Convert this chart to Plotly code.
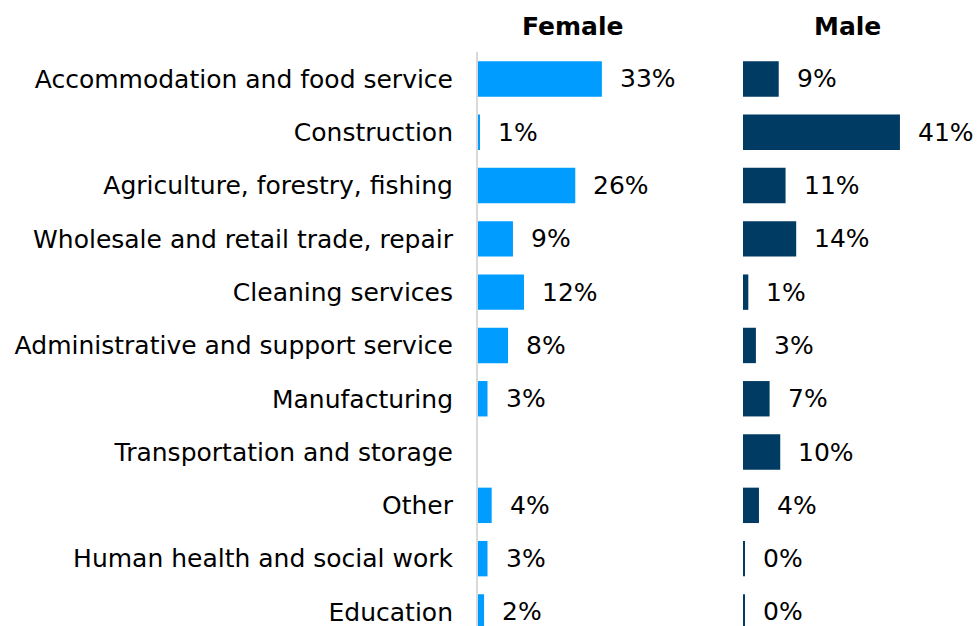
import plotly.graph_objects as go

categories = [
    "Accommodation and food service",
    "Construction",
    "Agriculture, forestry, fishing",
    "Wholesale and retail trade, repair",
    "Cleaning services",
    "Administrative and support service",
    "Manufacturing",
    "Transportation and storage",
    "Other",
    "Human health and social work",
    "Education",
]
female_values = [32.6, 0.5, 25.6, 9.2, 12.1, 7.9, 2.5, None, 3.6, 2.5, 1.6]
female_labels = ["33%", "1%", "26%", "9%", "12%", "8%", "3%", "", "4%", "3%", "2%"]
male_values = [9.4, 41.3, 11.2, 14.0, 1.4, 3.4, 7.0, 9.8, 4.2, 0.4, 0.4]
male_labels = ["9%", "41%", "11%", "14%", "1%", "3%", "7%", "10%", "4%", "0%", "0%"]
panel_titles = ["Female", "Male"]

W, H = 978, 626
FONT = "DejaVu Sans"
FEMALE_COLOR = "#009CFF"
MALE_COLOR = "#003B64"
PX_PER_PCT = 3.8

f_left, f_right = 478, 735
m_left, m_right = 743, 978
top_px = 52.3
row_h = 53.3

fig = go.Figure()
fig.add_trace(go.Bar(
    y=categories, x=female_values, orientation="h",
    marker=dict(color=FEMALE_COLOR, line=dict(width=0)),
    xaxis="x", yaxis="y", hoverinfo="x+y", showlegend=False,
))
fig.add_trace(go.Bar(
    y=categories, x=male_values, orientation="h",
    marker=dict(color=MALE_COLOR, line=dict(width=0)),
    xaxis="x2", yaxis="y", hoverinfo="x+y", showlegend=False,
))

annotations = []
for cat, v, lab in zip(categories, female_values, female_labels):
    if v is None or lab == "":
        continue
    annotations.append(dict(x=v, y=cat, xref="x", yref="y", text=lab,
                            showarrow=False, xanchor="left", yanchor="middle",
                            xshift=16, font=dict(family=FONT, size=25, color="#000000")))
for cat, v, lab in zip(categories, male_values, male_labels):
    annotations.append(dict(x=v, y=cat, xref="x2", yref="y", text=lab,
                            showarrow=False, xanchor="left", yanchor="middle",
                            xshift=16, font=dict(family=FONT, size=25, color="#000000")))
for title, cx in zip(panel_titles, [572, 847]):
    annotations.append(dict(x=cx / W, y=1 - 27 / H, xref="paper", yref="paper",
                            text="<b>" + title + "</b>", showarrow=False,
                            xanchor="center", yanchor="middle",
                            font=dict(family=FONT, size=25, color="#000000")))

n_rows_visible = (H - top_px) / row_h

fig.update_layout(
    width=W, height=H,
    margin=dict(l=0, r=0, t=0, b=0),
    paper_bgcolor="white", plot_bgcolor="white",
    font=dict(family=FONT, size=25, color="#000000"),
    bargap=0.336,
    barmode="group",
    xaxis=dict(domain=[f_left / W, f_right / W], range=[0, (f_right - f_left) / PX_PER_PCT],
               visible=False, fixedrange=True, anchor="y"),
    xaxis2=dict(domain=[m_left / W, 1.0], range=[0, (m_right - m_left) / PX_PER_PCT],
                visible=False, fixedrange=True, anchor="y"),
    yaxis=dict(domain=[0, 1 - top_px / H], type="category",
               categoryorder="array", categoryarray=categories,
               range=[-0.5 + n_rows_visible, -0.5],
               showline=True, linecolor="#D9D9D9", linewidth=2,
               showgrid=False, zeroline=False, ticks="",
               ticklabelstandoff=18,
               tickfont=dict(family=FONT, size=25, color="#000000"),
               anchor="x", fixedrange=True, automargin=False),
    annotations=annotations,
)

fig.write_html(
    "out.html",
    config={"displayModeBar": False, "staticPlot": False},
    post_script="document.body.style.margin='0px';document.body.style.overflow='hidden';",
)
